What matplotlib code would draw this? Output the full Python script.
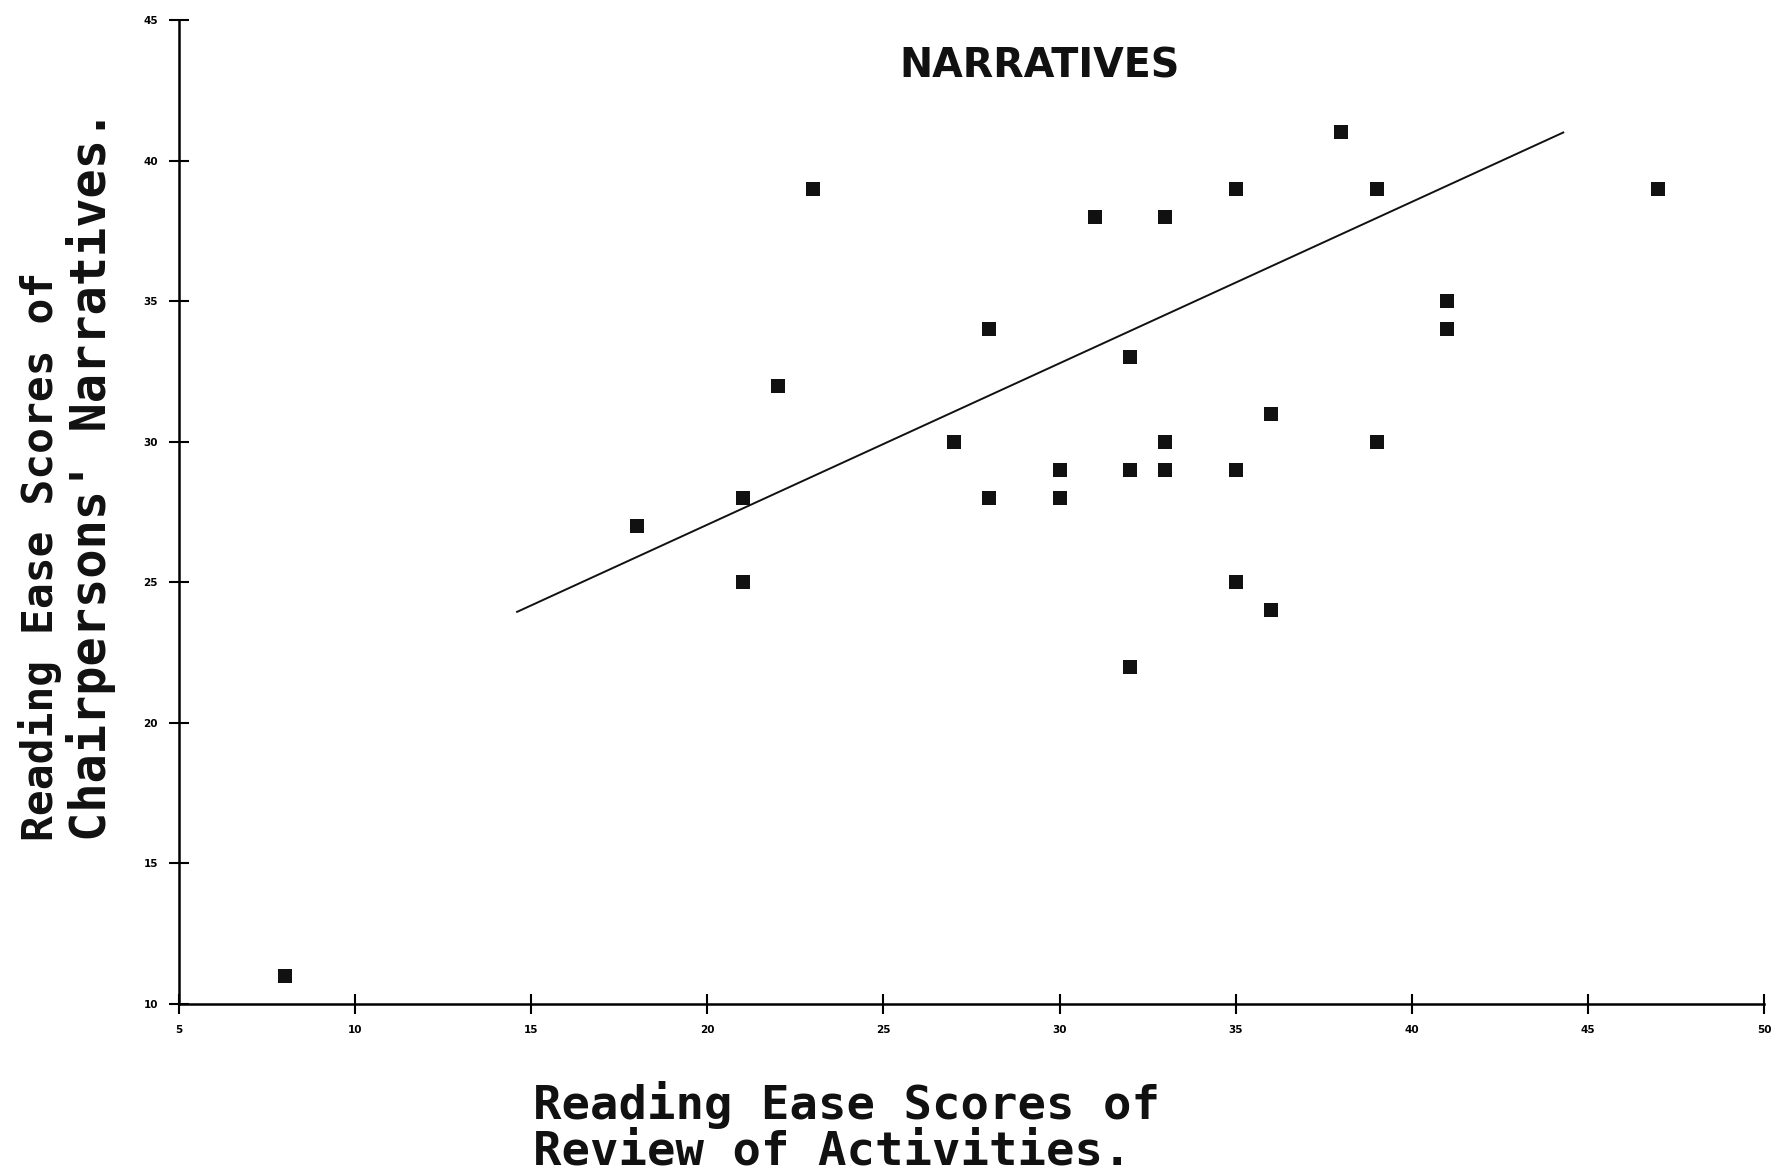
import numpy as np
import matplotlib.pyplot as plt

# Reading ease scores
review_scores = [8, 18, 21, 21, 22, 23, 27, 28, 28, 30, 30, 31, 32, 32, 32,
                 33, 33, 33, 35, 35, 35, 36, 36, 38, 39, 39, 41, 41, 47]
narrative_scores = [11, 27, 28, 25, 32, 39, 30, 34, 28, 29, 28, 38, 33, 29, 22,
                    38, 30, 29, 39, 29, 25, 31, 24, 41, 39, 30, 35, 34, 39]

# Trend line endpoints as drawn on the chart
trend_x = [14.6, 44.3]
trend_y = [23.95, 41.0]

x_ticks = [5, 10, 15, 20, 25, 30, 35, 40, 45, 50]
y_ticks = [10, 15, 20, 25, 30, 35, 40, 45]

fig = plt.figure(figsize=(17.77, 11.72), dpi=100)
ax = fig.add_axes([0.1007, 0.1433, 0.892, 0.8396])

ax.plot(review_scores, narrative_scores, 's', color='#111111', markersize=10,
        markeredgewidth=0)
ax.plot(trend_x, trend_y, color='#111111', linewidth=1.4)

ax.set_xlim(5, 50)
ax.set_ylim(10, 45)
ax.set_xticks(x_ticks)
ax.set_yticks(y_ticks)
ax.tick_params(direction='inout', length=14, width=1.5, labelsize=7.5, pad=8)
for lbl in ax.get_xticklabels() + ax.get_yticklabels():
    lbl.set_fontweight('bold')

ax.spines['top'].set_visible(False)
ax.spines['right'].set_visible(False)
ax.spines['left'].set_linewidth(1.8)
ax.spines['bottom'].set_linewidth(1.8)

fig.text(1040 / 1777, 1 - 66 / 1172, 'NARRATIVES',
         ha='center', va='center', fontsize=28.5, family='DejaVu Sans',
         fontweight='bold', color='#111111')

mono = dict(family='DejaVu Sans Mono', fontweight='bold', color='#111111')
fig.text(533 / 1777, 1 - 1105 / 1172, 'Reading Ease Scores of',
         fontsize=34, ha='left', va='center', **mono)
fig.text(533 / 1777, 1 - 1152 / 1172, 'Review of Activities.',
         fontsize=34, ha='left', va='center', **mono)

fig.text(40 / 1777, 0.2824, 'Reading Ease Scores of', rotation=90,
         fontsize=31, ha='center', va='bottom', **mono)
fig.text(91 / 1777, 0.2824, "Chairpersons' Narratives.", rotation=90,
         fontsize=35, ha='center', va='bottom', **mono)

fig.savefig('out.png', dpi=100)
